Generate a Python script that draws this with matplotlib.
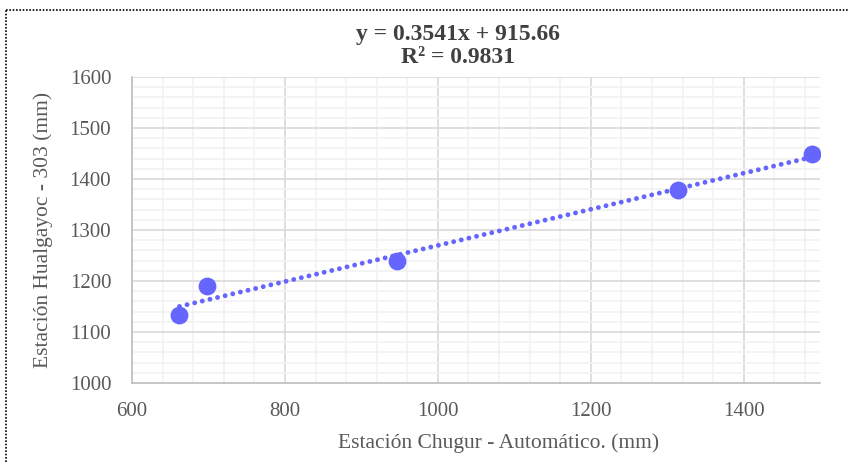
import numpy as np
import matplotlib.pyplot as plt
from matplotlib.lines import Line2D
from matplotlib.ticker import MultipleLocator

plt.rcParams['font.family'] = ['Liberation Serif', 'DejaVu Serif']

# Precipitation (mm) at the two stations
chugur = [662, 698, 946, 1314, 1489]
hualgayoc = [1133, 1190, 1239, 1378, 1449]

# fitted trend as printed on the chart
slope = 0.3541
intercept = 915.66
r2 = 0.9831

fig = plt.figure(figsize=(8.49, 4.62), dpi=100)
ax = fig.add_axes([0.1555, 0.171, 0.8105, 0.6623])

ax.set_xlim(600, 1500)
ax.set_ylim(1000, 1600)
ax.xaxis.set_major_locator(MultipleLocator(200))
ax.xaxis.set_minor_locator(MultipleLocator(40))
ax.yaxis.set_major_locator(MultipleLocator(100))
ax.yaxis.set_minor_locator(MultipleLocator(20))
ax.grid(which='minor', color='#F2F2F2', linewidth=1.2)
ax.grid(which='major', color='#D9D9D9', linewidth=1.2)
ax.set_axisbelow(True)

for side in ['top', 'right']:
    ax.spines[side].set_visible(False)
for side in ['left', 'bottom']:
    ax.spines[side].set_color('#BFBFBF')
    ax.spines[side].set_linewidth(1.2)
ax.tick_params(which='both', length=0, labelsize=15, colors='#595959')
ax.tick_params(axis='x', pad=14)
ax.tick_params(axis='y', pad=15)

xs = np.array([min(chugur), max(chugur)])
ax.plot(xs, slope * xs + intercept, linestyle=(0, (0.01, 1.6)), color='#6666FF',
        linewidth=3.5, dash_capstyle='round')
ax.scatter(chugur, hualgayoc, s=140, color='#6666FF', zorder=3)

ax.set_title(f"y = {slope}x + {intercept}\nR² = {r2}", fontsize=17, x=0.474,
             fontweight='bold', color='#404040', pad=10, linespacing=1.12)
ax.set_xlabel("Estación Chugur - Automático. (mm)", fontsize=15.5, color='#595959')
ax.xaxis.set_label_coords(0.532, -0.163)
ax.set_ylabel("Estación Hualgayoc - 303 (mm)", fontsize=15.5, color='#595959', labelpad=12)

# dotted frame around the chart area
fig.add_artist(Line2D([0.007, 1.0], [0.978, 0.978], transform=fig.transFigure,
                      color='black', linestyle=(0, (1, 1)), linewidth=1.2))
fig.add_artist(Line2D([0.007, 0.007], [0.0, 0.978], transform=fig.transFigure,
                      color='black', linestyle=(0, (1, 1)), linewidth=1.2))

fig.savefig("out.png", dpi=100)
